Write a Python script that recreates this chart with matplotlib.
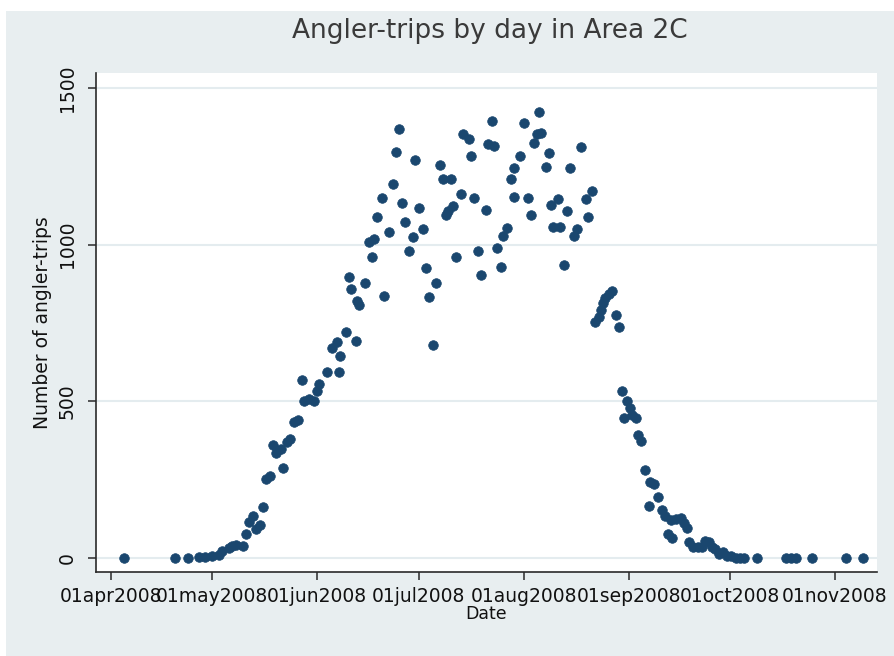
import datetime as dt
import matplotlib
matplotlib.use('Agg')
import matplotlib.pyplot as plt
import matplotlib.dates as mdates
from matplotlib.patches import Rectangle
import numpy as np

# days after 01apr2008 and number of angler-trips on that day
start = dt.date(2008, 4, 1)
day_offset = [
    4, 19, 23, 26, 28, 30, 32, 33, 35, 36, 37, 39, 40, 41, 42, 43, 44, 45, 46, 47, 48, 49,
    50.8, 50.3, 52.1, 53.1, 54.1, 55.5, 57.0, 58.5, 56.5, 60.0, 61.0, 61.5, 64.0, 65.5,
    66.9, 67.9, 67.4, 69.4, 72.4, 70.4, 70.9, 72.9, 73.4, 75.2, 77.2, 76.4, 77.8, 78.8,
    80.9, 80.3, 82.3, 83.4, 84.2, 85.1, 86.1, 87.1, 88.3, 89.2, 90.0, 91.0, 92.4, 93.2,
    94.0, 95.2, 96.2, 97.2, 98.2, 99.0, 99.7, 100.6, 101.1, 102.1, 103.6, 104.1, 105.8,
    106.5, 107.3, 108.4, 109.3,
    111.0, 112.6, 111.4, 113.4, 114.2, 115.2, 115.8, 117.1, 118.3, 119.3, 121.0, 119.1,
    122.2, 123.4, 124.2, 125.0, 126.0, 126.6, 127.1, 128.5, 129.5, 130.0, 130.8, 132.2,
    132.8, 133.9, 134.9, 135.7, 136.9, 137.8, 139.0, 140.3, 141.0, 142.2, 143.2, 144.2,
    144.9, 145.5, 146.1, 147.1, 148.1, 149.4, 150.1, 151.0, 152.5, 153.3, 154.0, 151.7,
    155.2, 155.9, 156.6, 157.9, 159.3, 160.5, 159.0, 161.8, 162.8, 163.7, 164.7, 165.8,
    165.5, 167.0, 168.4, 169.4, 170.4, 170.9, 172.1, 173.4, 174.7, 175.7, 176.9, 177.7,
    178.6, 179.6, 180.8, 182.0, 183.3, 184.6, 185.8, 187.0, 190.9, 199.6, 201.1, 202.4,
    207.1, 217.3, 222.2,
]
angler_trips = [
    0, 0, 0, 3, 4, 5, 8, 23, 31, 38, 41, 38, 77, 116, 134, 91, 104, 162, 251, 262, 361, 334,
    286, 347, 369, 380, 435, 440, 501, 506, 567, 501, 534, 556, 594, 671,
    688, 644, 594, 721, 693, 897, 858, 820, 809, 877, 961, 1007, 1018, 1089,
    836, 1150, 1040, 1194, 1295, 1370, 1133, 1073, 979, 1023, 1269, 1117, 1051, 924,
    833, 679, 877, 1255, 1211, 1095, 1107, 1211, 1123, 961, 1161, 1354, 1337,
    1282, 1150, 979, 902,
    1112, 1394, 1321, 1315, 990, 930, 1029, 1053, 1211, 1244, 1284, 1152,
    1387, 1150, 1095, 1326, 1354, 1423, 1357, 1249, 1293, 1128, 1056, 1145,
    1056, 935, 1108, 1244, 1029, 1051, 1313, 1145, 1089, 1170, 754, 770,
    792, 814, 831, 842, 853, 776, 737, 534, 501, 479, 457, 446,
    446, 391, 374, 281, 242, 237, 166, 193, 152, 135, 77, 64,
    121, 124, 128, 111, 96, 50, 36, 34, 36, 55, 50, 36,
    29, 13, 18, 7, 7, 0, 0, 0, 0, 0, 0, 0,
    0, 0, 0,
]
tick_dates = [dt.date(2008, m, 1) for m in range(4, 12)]
y_ticks = [0, 500, 1000, 1500]

navy = '#1a476f'
bg = '#e8eef0'

fig = plt.figure(figsize=(8.94, 6.56), dpi=100, facecolor='white')
# Stata style graph region
fig.patches.append(Rectangle((6 / 894, 0), 888 / 894, 645 / 656,
                             transform=fig.transFigure, facecolor=bg,
                             edgecolor='none', zorder=-10))

ax = fig.add_axes([0.1074, 0.128, 0.8736, 0.7607])
ax.set_facecolor('white')

x0 = mdates.date2num(start)
x = x0 + np.array(day_offset)
ax.scatter(x, angler_trips, s=48, marker='o', color=navy, edgecolors=navy,
           linewidths=0.5, zorder=3)

ax.set_xlim(x0 - 4.3, x0 + 226.4)
ax.set_ylim(-45, 1548)

ax.set_xticks(mdates.date2num(tick_dates))
ax.set_xticklabels([d.strftime('%d%b%Y').lower() for d in tick_dates])
ax.set_yticks(y_ticks)
ax.set_yticklabels([str(v) for v in y_ticks], rotation=90, va='center')

ax.yaxis.grid(True, color='#e4ecef', linewidth=1.5)
ax.set_axisbelow(True)

for side in ['top', 'right']:
    ax.spines[side].set_visible(False)
for side in ['left', 'bottom']:
    ax.spines[side].set_color('#2a2a2a')
    ax.spines[side].set_linewidth(1.2)

ax.tick_params(axis='both', direction='out', length=6, width=1.1,
               color='#2a2a2a', labelsize=13.5, labelcolor='#111111')
ax.tick_params(axis='x', pad=5)
ax.tick_params(axis='y', pad=8)

ax.set_xlabel('Date', fontsize=12.5, color='#111111', labelpad=-1)
ax.set_ylabel('Number of angler-trips', fontsize=13.5, color='#111111', labelpad=4)

fig.text(490 / 894, 1 - 31 / 656, 'Angler-trips by day in Area 2C',
         fontsize=19, color='#3a3a3a', ha='center', va='center')

fig.savefig('out.png', dpi=100, facecolor=fig.get_facecolor())
